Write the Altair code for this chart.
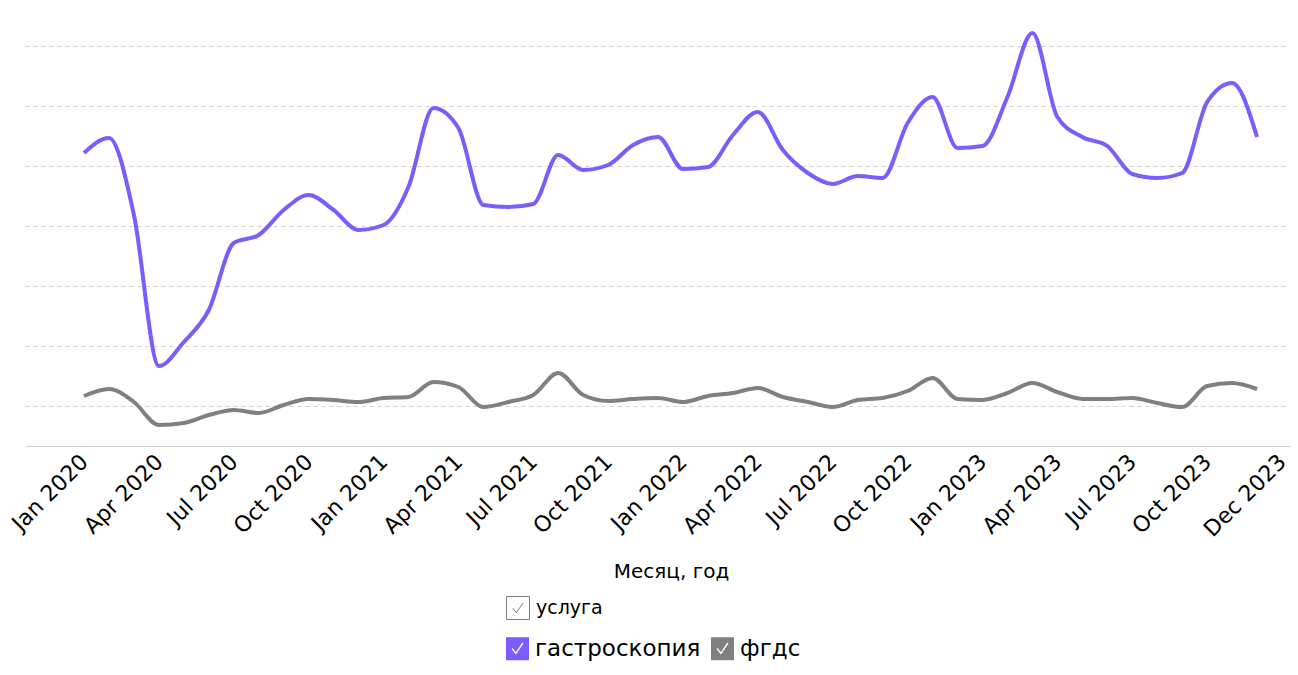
import json
import altair as alt
import pandas as pd

MON = ["Jan", "Feb", "Mar", "Apr", "May", "Jun", "Jul", "Aug", "Sep", "Oct", "Nov", "Dec"]
months = [f"{m} {y}" for y in range(2020, 2024) for m in MON]

tick_labels = ["Jan 2020", "Apr 2020", "Jul 2020", "Oct 2020",
               "Jan 2021", "Apr 2021", "Jul 2021", "Oct 2021",
               "Jan 2022", "Apr 2022", "Jul 2022", "Oct 2022",
               "Jan 2023", "Apr 2023", "Jul 2023", "Oct 2023", "Dec 2023"]
# month index at which each tick label sits (the last one is drawn at the end of the axis)
tick_pos = [0, 3, 6, 9, 12, 15, 18, 21, 24, 27, 30, 33, 36, 39, 42, 45, 48]

gastro = [1465, 1540, 1155, 400, 520, 680, 1015, 1055, 1180, 1255, 1180, 1080,
          1105, 1295, 1690, 1590, 1205, 1195, 1210, 1455, 1380, 1405, 1505, 1545,
          1385, 1395, 1555, 1670, 1480, 1365, 1310, 1350, 1340, 1615, 1745, 1490,
          1500, 1745, 2065, 1645, 1545, 1500, 1360, 1340, 1365, 1720, 1815, 1545]

fgds = [250, 285, 220, 105, 115, 155, 180, 165, 205, 235, 230, 220,
        240, 245, 320, 295, 195, 220, 255, 365, 255, 225, 235, 240,
        220, 250, 265, 290, 245, 220, 195, 230, 240, 275, 340, 235,
        230, 265, 315, 270, 235, 235, 240, 215, 195, 300, 315, 285]

services = ["гастроскопия", "фгдс"]
colors = ["#7c5cfc", "#808080"]
grid_values = [200, 500, 800, 1100, 1400, 1700, 2000]

rows = []
for name, vals in zip(services, [gastro, fgds]):
    for i, (m, v) in enumerate(zip(months, vals)):
        rows.append({"idx": i, "month": m, "service": name, "value": v})
df = pd.DataFrame(rows)

FONT = "DejaVu Sans"

check_filled = ("M-1,-1H1V1H-1Z M-0.52,0.02 L-0.14,0.5 L0.52,-0.46 "
                "L0.42,-0.54 L-0.14,0.3 L-0.42,-0.06 Z")
check_box = "M-1,-1H1V1H-1Z M-0.45,0.02 L-0.14,0.4 L0.45,-0.45"

label_expr = "%s[indexof(%s, datum.value)]" % (
    json.dumps(tick_labels, ensure_ascii=False), json.dumps(tick_pos))

x_scale = alt.Scale(domain=[-2.364, 48.32], nice=False, zero=False)
x_enc = alt.X(
    "idx:Q", scale=x_scale,
    axis=alt.Axis(values=tick_pos, labelExpr=label_expr, labelAngle=-45,
                  labelAlign="right", labelBaseline="middle",
                  labelFontSize=22, labelFont=FONT, labelColor="black",
                  labelPadding=12, labelOverlap=False, labelBound=False,
                  ticks=False, grid=False, domainColor="#cccccc",
                  title="Месяц, год", titleFont=FONT, titleFontSize=20,
                  titleFontWeight="normal", titleColor="black",
                  titleX=646, titleY=131, titleAlign="center",
                  titleBaseline="alphabetic"),
)
y_enc = alt.Y(
    "value:Q",
    scale=alt.Scale(domain=[0, 2130], nice=False, zero=False),
    axis=alt.Axis(values=grid_values, labels=False, ticks=False, domain=False,
                  title=None, grid=True, gridDash=[4, 4], gridColor="#d0d0d0"),
)

lines = alt.Chart(df).mark_line(strokeWidth=4, interpolate="monotone").encode(
    x=x_enc,
    y=y_enc,
    stroke=alt.Stroke("service:N", scale=alt.Scale(range=colors), legend=None),
)

legend_pts = alt.Chart(df).mark_point(filled=True, opacity=0).encode(
    x=alt.X("idx:Q"),
    y=alt.Y("value:Q"),
    fill=alt.Fill(
        "service:N",
        scale=alt.Scale(domain=services, range=colors),
        legend=alt.Legend(
            title=None, orient="none", legendX=481, legendY=617,
            direction="horizontal", symbolType=check_filled, symbolSize=529,
            symbolOpacity=1, symbolStrokeWidth=0,
            labelFontSize=23, labelFont=FONT, labelColor="black",
            labelOffset=6, columnPadding=10, labelLimit=400,
        ),
    ),
)

group_pts = alt.Chart(df).transform_calculate(group="'услуга'").mark_point(
    opacity=0, color="#808080", strokeWidth=1).encode(
    x=alt.X("idx:Q"),
    y=alt.Y("value:Q"),
    shape=alt.Shape(
        "group:N",
        scale=alt.Scale(domain=["услуга"], range=[check_box]),
        legend=alt.Legend(
            title=None, orient="none", legendX=481, legendY=576,
            symbolSize=529, symbolOpacity=1, symbolStrokeWidth=1,
            symbolStrokeColor="#808080",
            labelFontSize=19, labelFont=FONT,
            labelColor="black", labelOffset=6, labelLimit=400,
        ),
    ),
)

chart = alt.layer(lines, legend_pts, group_pts).properties(
    width=1265, height=426,
    autosize=alt.AutoSizeParams(type="none"),
    padding={"left": 17, "top": 12, "right": 0, "bottom": 217},
).configure(font=FONT).configure_view(stroke=None)

chart.save("out.html", embed_options={"renderer": "svg", "actions": False})
